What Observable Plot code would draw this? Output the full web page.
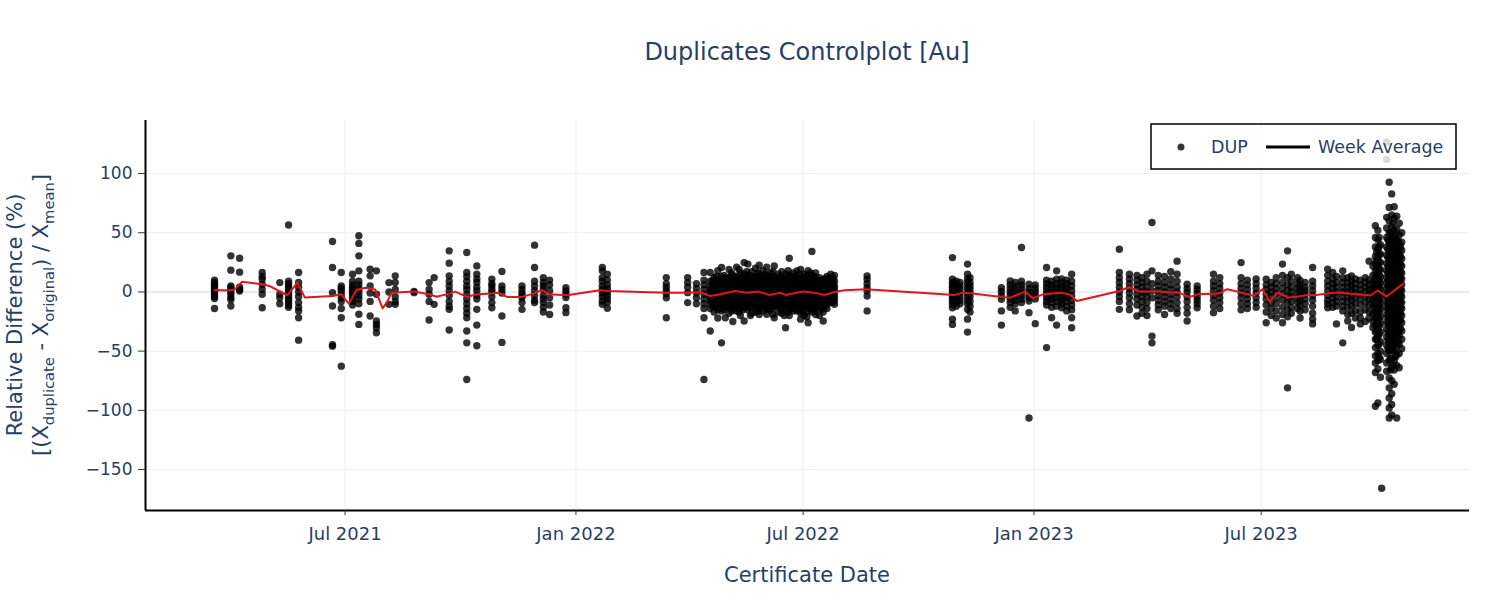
<!DOCTYPE html>
<html>
<head>
<meta charset="utf-8">
<script src="https://cdn.jsdelivr.net/npm/d3@7"></script>
<script src="https://cdn.jsdelivr.net/npm/@observablehq/plot@0.6"></script>
<style>
  body { margin: 0; background: #fff; }
  #chart { position: relative; width: 1500px; height: 600px; }
</style>
</head>
<body>
<div id="chart"></div>
<script>
// ---- DUP points: [certificate date, relative differences (%)] ----
const dup2021 = [
  ["2021-03-19", [10, 8, 6.5, 5, 3.5, 2, 0.5, -1, -2.5, -4, -5.5, -14]],
  ["2021-04-01", [30.5, 18.4, 5, 3.6, 2, 0, -2, -4.8, -6.5, -11.9]],
  ["2021-04-08", [28.5, 16.7, 4, 2, 0.8]],
  ["2021-04-26", [16.4, 13, 10.7, 6.5, 2, -2, -13.3]],
  ["2021-05-10", [7.9, -2, -5, -10]],
  ["2021-05-17", [56.5, 9, 7, 5, 3, 1, -1, -3, -5, -7, -9, -11, -13]],
  ["2021-05-25", [16.4, 8, 4, 0, -4, -9, -13, -16, -21.8, -40.7]],
  ["2021-06-21", [42.6, 20.6, -0.6, -11.9, -45.8, -44.6]],
  ["2021-06-28", [16.4, 5, 3, 1, -2, -5, -8, -14, -21.8, -62.7]],
  ["2021-07-07", [15, 9, 6, 4, 2, 0, -2, -4, -6, -8, -11]],
  ["2021-07-12", [47.5, 41, 30.5, 17.8, 9, 6, 3, 0, -3, -6, -10, -18.9, -27.4]],
  ["2021-07-21", [19.2, 13.6, 5, -1, -8, -20.3]],
  ["2021-07-26", [17.8, -2, -24.6, -27.4, -30.2, -34.5]],
  ["2021-08-05", [7.9, 0, -10.5]],
  ["2021-08-10", [13.6, 8, 2, -4, -8, -10.5]],
  ["2021-08-25", [0.5, -0.6]],
  ["2021-09-06", [7.9, 2, -2, -8, -23.7]],
  ["2021-09-10", [12.1, -10.5]],
  ["2021-09-22", [34.7, 24.3, 13.6, 9, 5, 1, -3, -8, -12, -14.7, -32.2]],
  ["2021-10-06", [33.3, 16.4, 13, 9, 5, 2, -2, -6, -10, -14, -18, -21.8, -33, -43, -74]],
  ["2021-10-14", [22, 15, 11, 8, 4, 1, -3, -6, -14.7, -28, -45.5]],
  ["2021-10-26", [10.7, 7, 5, 2, 0, -4, -9, -13.3]],
  ["2021-11-03", [17.2, 5, 2, -1, -20.3, -42.6]],
  ["2021-11-19", [5, 2, -1, -3, -5, -9, -14.7]],
  ["2021-11-29", [39.5, 20.6, 9, 5, 1, -3, -7, -9]],
  ["2021-12-06", [12, 8, 5, 2, -3, -6, -9, -13, -17]],
  ["2021-12-11", [10, 6, 1, -5, -11, -19]],
  ["2021-12-24", [3.6, 0.8, -2, -4.8, -13.3, -17.5]]
];

const dup2022 = [
  ["2022-01-22", [20.6, 17.8, 12.1, 9, 5, 2, -1, -4, -7.6, -10.5]],
  ["2022-01-26", [15, 10, 6, 3, 0, -3, -6, -9, -13.8]],
  ["2022-03-14", [12.1, 7, 4, 1, -1.5, -5, -21.8]],
  ["2022-03-31", [12.1, 7.9, 4, -0.6, -9]],
  ["2022-04-07", [7, 3, -1, -5, -10]],
  ["2022-04-13", [16.4, 10, 6, 2, -2, -6, -10, -14, -21.8, -74]],
  ["2022-04-18", [16.4, 9, 5, 2, 0, -2, -4, -7, -10, -14, -33]],
  ["2022-04-20", [9, 5.5, 2.5, 0.5, -1.5, -4, -6.5, -9, -12]],
  ["2022-04-21", [12, 7, 4, 1, -1, -3, -6, -9, -12, -17]],
  ["2022-04-23", [13, 8.5, 5, 1.5, -1, -3.5, -6, -9.5, -13]],
  ["2022-04-24", [18, 10, 6, 3, 0, -3, -5, -8, -11, -15, -22]],
  ["2022-04-26", [10, 6, 3, 1, -1.5, -4.5, -7, -10]],
  ["2022-04-27", [20.6, 13, 8, 4, 1, -2, -5, -8, -12, -16, -43]],
  ["2022-04-29", [14, 9, 5.5, 2.5, 0, -2.5, -5.5, -8.5, -11.5, -15]],
  ["2022-04-30", [11, 7, 3, 0, -2, -4, -7, -10, -13, -21.8]],
  ["2022-05-02", [12, 8, 4.5, 1.5, -1, -3.5, -6, -9, -12]],
  ["2022-05-03", [19, 12, 8, 5, 2, 0, -3, -6, -9, -13, -18]],
  ["2022-05-05", [16, 10, 6.5, 3.5, 0.5, -2, -4.5, -7.5, -11, -16]],
  ["2022-05-06", [14, 9, 5, 2, -1, -3, -6, -9, -14, -25]],
  ["2022-05-08", [11, 7.5, 4, 1, -1.5, -4, -7, -10, -13]],
  ["2022-05-09", [21, 13, 9, 6, 3, 1, -2, -5, -8, -11, -16]],
  ["2022-05-11", [19, 12, 8, 5, 2, -0.5, -3, -5.5, -8.5, -12, -17]],
  ["2022-05-12", [16, 11, 7, 4, 1, -2, -4, -7, -10, -14, -20]],
  ["2022-05-14", [13, 8.5, 5.5, 2.5, 0, -2.5, -5, -8, -11, -15]],
  ["2022-05-15", [24.8, 15, 10, 6, 3, 0, -3, -6, -9, -13, -24.6]],
  ["2022-05-17", [17, 11, 7.5, 4.5, 1.5, -1, -3.5, -6.5, -9.5, -13]],
  ["2022-05-18", [23.5, 14, 9, 5, 2, -1, -4, -7, -11, -15]],
  ["2022-05-20", [14, 9, 5.5, 2.5, -0.5, -3, -6, -9, -13, -20]],
  ["2022-05-21", [17, 11, 7, 4, 1, -2, -5, -8, -12, -18]],
  ["2022-05-23", [12, 8, 5, 2, -1, -3.5, -6.5, -10]],
  ["2022-05-24", [20, 13, 8, 5, 2, -1, -3, -6, -9, -13, -17]],
  ["2022-05-26", [16, 10.5, 7, 4, 1, -1.5, -4.5, -7.5, -11, -16]],
  ["2022-05-27", [22.5, 15, 10, 6, 3, 0, -3, -6, -10, -14, -19]],
  ["2022-05-29", [13, 9, 5.5, 2.5, -0.5, -3, -6, -9.5, -13.5]],
  ["2022-05-30", [18, 12, 7, 4, 1, -2, -5, -8, -11, -16]],
  ["2022-06-01", [15, 10, 6.5, 3.5, 0.5, -2.5, -5.5, -8.5, -12]],
  ["2022-06-02", [21, 14, 9, 5, 2, -1, -4, -7, -10, -14, -18.9]],
  ["2022-06-04", [12, 8, 4.5, 1.5, -1.5, -4, -7, -10.5, -15]],
  ["2022-06-05", [16, 10, 6, 3, 0, -3, -6, -9, -12, -15]],
  ["2022-06-07", [17, 11, 7, 3.5, 0.5, -2.5, -5.5, -9, -13, -19]],
  ["2022-06-08", [22, 13, 8, 5, 2, -1, -4, -8, -12, -21.8]],
  ["2022-06-10", [11, 7.5, 4.5, 1.5, -1.5, -4.5, -7.5, -11]],
  ["2022-06-11", [15, 10, 6, 3, 0, -2, -5, -8, -11, -17]],
  ["2022-06-13", [13, 8.5, 5, 2, -1, -4, -7, -10.5, -14.5]],
  ["2022-06-14", [17, 11, 7, 4, 1, -2, -5, -9, -13, -18]],
  ["2022-06-16", [12, 8, 4, 1, -2, -5, -8.5, -12.5, -20]],
  ["2022-06-17", [15, 10, 6, 2, -1, -4, -7, -11, -16, -30.2]],
  ["2022-06-19", [18, 11, 7, 3.5, 0.5, -2.5, -5.5, -9, -12.5, -17]],
  ["2022-06-20", [28.5, 14, 9, 5, 2, -1, -4, -7, -10, -14, -20]],
  ["2022-06-22", [13, 8.5, 5.5, 2.5, -0.5, -3.5, -6.5, -10, -14]],
  ["2022-06-23", [16, 10, 7, 4, 1, -2, -5, -8, -12, -16]],
  ["2022-06-25", [14, 9.5, 6, 2.5, -0.5, -3.5, -6.5, -10]],
  ["2022-06-26", [17.8, 12, 8, 4, 1, -2, -5, -8, -11, -16]],
  ["2022-06-28", [15, 10, 5.5, 2, -1, -4.5, -7.5, -11, -15.5]],
  ["2022-06-29", [19, 12, 7, 3, 0, -3, -6, -9, -13, -18, -23]],
  ["2022-07-01", [12, 8, 4.5, 1.5, -1.5, -4.5, -8, -12, -17]],
  ["2022-07-02", [15, 10, 6, 3, 0, -3, -6, -10, -14, -20]],
  ["2022-07-04", [14, 9, 4.5, 1.5, -1.5, -5, -9, -13.5, -21]],
  ["2022-07-05", [18, 11, 6, 3, 0, -3, -7, -11, -16, -26]],
  ["2022-07-07", [16, 11, 7, 3.5, 0.5, -2.5, -6, -10, -14]],
  ["2022-07-08", [34.2, 14, 9, 5, 2, -1, -4, -8, -12, -17]],
  ["2022-07-10", [13, 8, 4.5, 1.5, -1.5, -4.5, -7.5, -11, -16]],
  ["2022-07-11", [16, 10, 6, 3, 0, -3, -6, -9, -13, -19]],
  ["2022-07-13", [10, 6.5, 3.5, 0.5, -2.5, -5.5, -8.5, -12]],
  ["2022-07-14", [12, 8, 5, 2, -1, -4, -7, -10, -14, -20]],
  ["2022-07-16", [9, 5.5, 2.5, -0.5, -3.5, -6.5, -10, -14.5]],
  ["2022-07-17", [10.7, 7, 4, 1, -2, -5, -8, -12, -17, -24.6]],
  ["2022-07-19", [11, 7, 3.5, 0.5, -2.5, -5.5, -8.5, -12]],
  ["2022-07-20", [13, 9, 5, 2, -1, -4, -7, -10, -14]],
  ["2022-07-22", [12, 8, 4.5, 1.5, -1.5, -4.5, -7.5]],
  ["2022-07-23", [15, 10, 6, 3, 0, -3, -6, -9]],
  ["2022-07-25", [11, 7, 3.5, 0.5, -2.5, -5.5, -8.5]],
  ["2022-07-26", [14, 9, 5, 2, -1, -4, -7, -10.5]],
  ["2022-08-21", [13.6, 10.7, 7, 3.6, 0.8, -3.4, -16]],
  ["2022-10-28", [29, 10.7, 8, 6, 4, 2, 0, -2, -4, -6, -8, -10.5, -13.3, -23, -27.4]],
  ["2022-10-31", [9, 7, 5, 3, 1, -1, -3, -5, -7, -9, -12]],
  ["2022-11-03", [8, 5, 2, -1, -4, -7, -10]],
  ["2022-11-09", [23.5, 15, 11, 8, 5, 2, -1, -4, -7, -10, -14.7, -23, -33.9]],
  ["2022-11-11", [12, 8, 5, 2, -1, -4, -8, -12, -17]],
  ["2022-12-06", [3.6, 0.5, -3, -6.2, -16, -28]],
  ["2022-12-13", [9.3, 6, 3, 0, -3, -6, -9, -13]],
  ["2022-12-17", [8, 5, 2, -1, -4, -7, -10, -16]],
  ["2022-12-22", [37.5, 9, 6, 3, 0, -3, -6, -9]],
  ["2022-12-28", [6.5, 3, 0, -3, -5, -7.6, -17.5, -106.5]]
];

const dup2023 = [
  ["2023-01-02", [6, 3, 0, -3, -6, -26.8]],
  ["2023-01-11", [20.6, 10, 7, 4, 1, -2, -5, -8, -11, -47]],
  ["2023-01-15", [9, 6, 3, 0, -3, -6, -9, -13, -21.8]],
  ["2023-01-19", [17.8, 10.7, 7, 4, 1, -2, -5, -8, -12, -28]],
  ["2023-01-23", [11, 8, 5, 2, -1, -4, -7, -10, -13.3]],
  ["2023-01-27", [10, 7, 4, 1, -2, -5, -8, -12, -16]],
  ["2023-01-31", [15, 9, 5, 1, -3, -7, -11, -15, -21.8, -30.2]],
  ["2023-03-10", [36, 16.4, 12, 8, 4, 0, -4, -8, -14.7]],
  ["2023-03-18", [15, 11, 7, 3, -1, -5, -10, -15]],
  ["2023-03-24", [14, 10, 6, 2, -2, -6, -11, -20.3]],
  ["2023-03-28", [12, 8, 4, 0, -4, -8, -13, -18]],
  ["2023-04-01", [15, 9, 4, 0, -4, -9, -14, -20]],
  ["2023-04-05", [58.7, 17.8, 7, 1, -5, -37.3, -43]],
  ["2023-04-10", [14, 9, 5, 1, -3, -7, -11, -15]],
  ["2023-04-15", [13, 8, 4, 0, -4, -8, -12, -19]],
  ["2023-04-20", [17, 11, 6, 2, -2, -6, -10, -14]],
  ["2023-04-25", [26, 15, 9, 4, 0, -4, -9, -14, -18]],
  ["2023-05-03", [6.5, 3, 0, -4, -8, -13, -18, -24.6]],
  ["2023-05-11", [5, 2, -1, -4, -7, -10, -13.3]],
  ["2023-05-24", [15, 9, 5, 1, -3, -7, -12, -17.5]],
  ["2023-05-29", [12, 7, 3, -1, -5, -9, -14]],
  ["2023-06-15", [24.8, 12, 7, 3, -1, -5, -10, -15]],
  ["2023-06-20", [10, 6, 2, -2, -6, -10, -14]],
  ["2023-06-27", [11, 7, 3, -1, -5, -9, -13]],
  ["2023-07-05", [10.7, 6, 2, -2, -6, -11, -17, -26]],
  ["2023-07-09", [8, 4, 0, -4, -9, -14, -20]],
  ["2023-07-13", [12, 7, 3, -1, -5, -10, -16, -22]],
  ["2023-07-18", [23.5, 14, 8, 3, -2, -7, -13, -19, -26]],
  ["2023-07-22", [34.7, 12, 6, 1, -4, -9, -15, -21, -81]],
  ["2023-07-25", [15, 9, 4, 0, -4, -8, -13, -18]],
  ["2023-07-30", [12, 7, 3, -1, -5, -9, -14]],
  ["2023-08-01", [9.6, 6, 3, 0, -3, -7, -11, -16, -22]],
  ["2023-08-05", [8, 4, 1, -2, -6, -10, -15]],
  ["2023-08-11", [20.6, 9, 5, 1, -3, -7, -12, -18, -23, -27]],
  ["2023-08-23", [19.2, 14, 9, 5, 1, -3, -7, -10, -13.3]],
  ["2023-08-27", [16.4, 11, 7, 3, -1, -5, -9, -13]],
  ["2023-08-30", [13, 8, 4, 0, -4, -8, -12, -27]],
  ["2023-09-04", [17.8, 12, 8, 4, 0, -4, -8, -12, -16, -43]],
  ["2023-09-08", [12, 8, 4, 0, -4, -8, -13, -19, -24.6]],
  ["2023-09-11", [13.6, 9, 5, 1, -3, -7, -12, -18, -30]],
  ["2023-09-14", [11, 7, 3, -1, -5, -10, -16, -22]],
  ["2023-09-18", [10, 6, 2, -2, -6, -11, -17, -22, -27]],
  ["2023-09-22", [12, 8, 4, 0, -4, -9, -15, -25]],
  ["2023-09-25", [26, 10, 6, 2, -2, -6, -11, -17, -22]],
  ["2023-09-28", [22, 14, 8, 3, -2, -7, -12, -18, -25, -30]],
  ["2023-09-30", [56, 46, 38, 30, 24, 18, 13, 8, 4, 0, -4, -8, -12, -17, -22, -28, -34, -40, -47, -54, -60, -68, -96.6]],
  ["2023-10-01", [34, 27, 20, 14, 9, 5, 1, -3, -7, -11, -16, -21, -27, -33, -40]],
  ["2023-10-02", [52, 44, 36, 29, 22, 16, 11, 6, 2, -2, -6, -10, -15, -20, -26, -32, -38, -45, -52, -58, -65, -93.8]],
  ["2023-10-03", [46, 38, 31, 25, 19, 14, 9, 5, 1, -3, -7, -12, -17, -23, -29, -36, -44, -55]],
  ["2023-10-04", [40, 32, 25, 19, 13, 8, 3, -1, -5, -10, -15, -21, -27, -34, -42, -50, -57, -72]],
  ["2023-10-05", [-165.8]],
  ["2023-10-09", [126.5, 112, 63, 54, 46, 38, 31, 24, 18, 12, 7, 2, -3, -8, -13, -19, -25, -31, -38, -45, -52, -60, -67]],
  ["2023-10-10", [44, 36, 29, 22, 16, 10, 5, 0, -5, -10, -15, -21, -27, -34, -41, -48]],
  ["2023-10-11", [92.6, 71.4, 60, 50, 42, 34, 27, 20, 14, 9, 4, -1, -6, -11, -17, -23, -29, -36, -43, -50, -58, -72.6, -81, -89.6, -98, -106.5]],
  ["2023-10-12", [50, 40, 32, 25, 19, 13, 8, 3, -2, -7, -12, -18, -24, -31, -39, -47, -56, -66]],
  ["2023-10-13", [82.8, 65, 55, 45, 37, 30, 23, 17, 11, 6, 1, -4, -9, -15, -21, -27, -34, -41, -48, -56, -64, -75, -86, -95, -104]],
  ["2023-10-14", [58, 47, 38, 30, 23, 17, 12, 7, 2, -3, -8, -13, -19, -25, -32, -40, -49, -62]],
  ["2023-10-15", [72, 62, 52, 43, 35, 28, 21, 15, 10, 5, 0, -5, -10, -16, -22, -28, -35, -42, -50, -58, -66, -78]],
  ["2023-10-16", [48, 39, 31, 24, 18, 13, 8, 3, -2, -7, -12, -17, -23, -29, -36, -44, -55]],
  ["2023-10-17", [64, 53, 44, 36, 29, 22, 16, 11, 6, 2, -3, -8, -13, -19, -25, -31, -38, -46, -53, -62, -106.5]],
  ["2023-10-18", [43, 34, 27, 21, 15, 10, 5, 0, -5, -10, -15, -21, -27, -34, -42]],
  ["2023-10-19", [58, 48, 40, 32, 25, 19, 13, 8, 3, -2, -7, -12, -18, -24, -30, -37, -44, -52, -64]],
  ["2023-10-20", [38, 30, 23, 17, 12, 7, 2, -3, -8, -13, -18, -24, -31]],
  ["2023-10-21", [50, 42, 35, 28, 22, 16, 11, 6, 1, -4, -9, -14, -20, -26, -33, -40, -48]]
];

// ---- Week average line: [date, value] ----
const weekAverage = [
  ["2021-03-19", 1.4], ["2021-04-01", 1.4], ["2021-04-04", 2.0], ["2021-04-10", 8.7],
  ["2021-04-26", 6.5], ["2021-05-02", 5.0], ["2021-05-16", -2.8], ["2021-05-24", 7.9],
  ["2021-05-30", -4.8], ["2021-06-21", -3.4], ["2021-06-28", -2.0], ["2021-07-04", -9.9],
  ["2021-07-10", 1.4], ["2021-07-17", 3.6], ["2021-07-25", 2.0], ["2021-07-31", -13.8],
  ["2021-08-04", -7.6], ["2021-08-07", -0.6], ["2021-08-25", 0.3], ["2021-09-06", -2.0],
  ["2021-09-12", -4.0], ["2021-09-22", -1.4], ["2021-09-27", 0.3], ["2021-10-06", -4.2],
  ["2021-10-14", -2.0], ["2021-10-26", -1.4], ["2021-10-31", -0.6], ["2021-11-07", -4.2],
  ["2021-11-19", -4.2], ["2021-11-28", -1.4], ["2021-12-05", 1.4], ["2021-12-11", -2.0],
  ["2021-12-25", -2.8], ["2022-01-20", 1.4], ["2022-01-27", 0.8], ["2022-03-14", -0.6],
  ["2022-03-31", -0.6], ["2022-04-10", 0.0], ["2022-04-18", -3.4], ["2022-04-26", -2.0],
  ["2022-05-08", 0.8], ["2022-05-17", -0.6], ["2022-05-26", 0.3], ["2022-06-04", -2.5],
  ["2022-06-13", -0.6], ["2022-06-17", -2.5], ["2022-07-01", 0.3], ["2022-07-10", -0.6],
  ["2022-07-18", -2.5], ["2022-07-28", 0.3], ["2022-08-03", 1.4], ["2022-08-20", 2.3],
  ["2022-10-30", -2.5], ["2022-11-05", -0.6], ["2022-11-13", -1.4], ["2022-12-06", -4.2],
  ["2022-12-13", -4.8], ["2022-12-25", 0.3], ["2022-12-31", -5.4], ["2023-01-08", -2.0],
  ["2023-01-23", -0.6], ["2023-01-30", -2.5], ["2023-02-04", -7.6], ["2023-03-10", 0.8],
  ["2023-03-18", 4.2], ["2023-03-25", 0.3], ["2023-04-10", 0.3], ["2023-04-26", -0.6],
  ["2023-05-05", -4.2], ["2023-05-12", -2.0], ["2023-05-28", -1.4], ["2023-06-04", 2.3],
  ["2023-06-16", -0.6], ["2023-06-25", -3.4], ["2023-07-02", 2.3], ["2023-07-08", -8.2],
  ["2023-07-14", -0.6], ["2023-07-23", -4.8], ["2023-08-08", -2.5], ["2023-08-14", -2.5],
  ["2023-08-27", -0.6], ["2023-09-01", -0.6], ["2023-09-18", -2.2], ["2023-09-26", -3.0],
  ["2023-10-02", 1.2], ["2023-10-09", -3.9], ["2023-10-22", 6.8]
];

// ---- Axes ----
const xTickDates = ["2021-07-01", "2022-01-01", "2022-07-01", "2023-01-01", "2023-07-01"];
const yTickValues = [-150, -100, -50, 0, 50, 100];
const xRange = ["2021-01-23", "2023-12-14"];
const yRange = [-184.6, 144.8];

const parse = s => new Date(s + "T00:00:00Z");
const dupPoints = [...dup2021, ...dup2022, ...dup2023]
  .flatMap(([d, vals]) => vals.map(v => ({date: parse(d), value: v})));
const weekRows = weekAverage.map(([d, v]) => ({date: parse(d), value: v}));
const xTicks = xTickDates.map(parse);
const xDomain = xRange.map(parse);
const minusFmt = d => d < 0 ? "\u2212" + Math.abs(d) : String(d);

const FONT = "'DejaVu Sans', Verdana, sans-serif";
const TXT = "#2a3f5f";

const chart = Plot.plot({
  width: 1500,
  height: 600,
  marginTop: 120,
  marginBottom: 90,
  marginLeft: 145,
  marginRight: 31,
  style: {fontFamily: FONT, fontSize: "17px", color: TXT, background: "white", overflow: "visible"},
  x: {type: "utc", domain: xDomain},
  y: {domain: yRange},
  marks: [
    Plot.gridX(xTicks, {stroke: "#EBF0F8", strokeOpacity: 1, strokeWidth: 1}),
    Plot.gridY(yTickValues.filter(d => d !== 0), {stroke: "#EBF0F8", strokeOpacity: 1, strokeWidth: 1}),
    Plot.ruleY([0], {stroke: "#E5ECF6", strokeWidth: 2}),
    Plot.dot(dupPoints, {x: "date", y: "value", r: 3.7, fill: "black", fillOpacity: 0.8}),
    Plot.line(weekRows, {x: "date", y: "value", stroke: "#e0161b", strokeWidth: 2}),
    Plot.ruleX([xDomain[0]], {stroke: "black", strokeWidth: 2}),
    Plot.ruleY([yRange[0]], {stroke: "black", strokeWidth: 2}),
    Plot.axisX(xTicks, {tickFormat: d3.utcFormat("%b %Y"), tickSize: 5, tickPadding: 12, stroke: "#333", label: null, fontSize: 18}),
    Plot.axisY(yTickValues, {tickFormat: minusFmt, tickSize: 7, tickPadding: 6, stroke: "#333", label: null, fontSize: 17})
  ]
});

const svg = d3.select(chart);

// Title
svg.append("text")
  .attr("x", 807).attr("y", 60)
  .attr("text-anchor", "middle")
  .attr("font-family", FONT).attr("font-size", 24).attr("fill", TXT)
  .text("Duplicates Controlplot [Au]");

// X axis title
svg.append("text")
  .attr("x", 807).attr("y", 582)
  .attr("text-anchor", "middle")
  .attr("font-family", FONT).attr("font-size", 21).attr("fill", TXT)
  .text("Certificate Date");

// Y axis title, line 1
svg.append("text")
  .attr("transform", "translate(22,315) rotate(-90)")
  .attr("text-anchor", "middle")
  .attr("font-family", FONT).attr("font-size", 21).attr("fill", TXT)
  .text("Relative Difference (%)");

// Y axis title, line 2 with subscripts
const t2 = svg.append("text")
  .attr("transform", "translate(48,315) rotate(-90)")
  .attr("text-anchor", "middle")
  .attr("font-family", FONT).attr("font-size", 21).attr("fill", TXT);
const parts = [["[(X", false], ["duplicate", true], [" - X", false], ["original", true], [") / X", false], ["mean", true], ["]", false]];
let shifted = false;
for (const [s, sub] of parts) {
  const ts = t2.append("tspan").text(s);
  if (sub) { ts.attr("font-size", 14.7).attr("dy", shifted ? 0 : 6); shifted = true; }
  else { ts.attr("dy", shifted ? -6 : 0); shifted = false; }
}

// Legend
const lg = svg.append("g").attr("text-anchor", "start");
lg.append("rect").attr("x", 1151).attr("y", 124).attr("width", 305).attr("height", 45)
  .attr("fill", "white").attr("fill-opacity", 0.82).attr("stroke", "black").attr("stroke-width", 1.5);
lg.append("circle").attr("cx", 1181).attr("cy", 147).attr("r", 3.5).attr("fill", "black").attr("fill-opacity", 0.8);
lg.append("text").attr("x", 1211).attr("y", 147).attr("dy", "0.36em").attr("text-anchor", "start")
  .attr("font-family", FONT).attr("font-size", 17.5).attr("fill", TXT).text("DUP");
lg.append("line").attr("x1", 1266).attr("x2", 1310).attr("y1", 147).attr("y2", 147)
  .attr("stroke", "black").attr("stroke-width", 3);
lg.append("text").attr("x", 1318).attr("y", 147).attr("dy", "0.36em").attr("text-anchor", "start")
  .attr("font-family", FONT).attr("font-size", 17.5).attr("fill", TXT).text("Week Average");

document.getElementById("chart").appendChild(chart);
</script>
</body>
</html>
